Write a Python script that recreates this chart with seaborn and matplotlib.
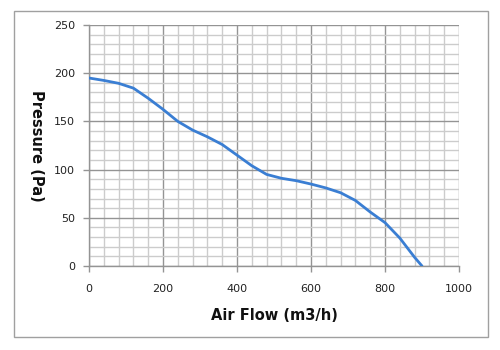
import matplotlib
matplotlib.use("Agg")
import matplotlib.pyplot as plt
from matplotlib.patches import Rectangle
from matplotlib.ticker import MultipleLocator
import seaborn as sns
import pandas as pd

# Fan performance curve: air flow (m3/h) vs static pressure (Pa)
air_flow = [0, 40, 80, 120, 160, 200, 240, 280, 320, 360, 400, 440,
            480, 520, 560, 600, 640, 680, 720, 760, 800, 840, 880, 900]
pressure = [195, 192.5, 189.5, 184.5, 174, 162.5, 150, 141, 134, 126, 115, 104,
            95, 91, 88.5, 85, 81, 76, 68, 56, 45, 29, 9, 0]

x_ticks = [0, 200, 400, 600, 800, 1000]
y_ticks = [0, 50, 100, 150, 200, 250]

df = pd.DataFrame({"Air Flow (m3/h)": air_flow, "Pressure (Pa)": pressure})

sns.set_theme(style="white")
plt.rcParams["font.family"] = ["DejaVu Sans"]

fig = plt.figure(figsize=(5, 3.5), dpi=100)
fig.patch.set_facecolor("white")

# outer chart frame
fig.patches.append(Rectangle((14 / 500, 13 / 350), 474 / 500, 326 / 350,
                             transform=fig.transFigure, fill=False,
                             edgecolor="#a0a0a0", linewidth=1.0))

ax = fig.add_axes([89 / 500, 84 / 350, 370 / 500, 241 / 350])

sns.lineplot(data=df, x="Air Flow (m3/h)", y="Pressure (Pa)", ax=ax,
             color="#3a7ed3", linewidth=2.0, sort=False, zorder=5)

ax.set_xlim(0, 1000)
ax.set_ylim(0, 250)
ax.set_xticks(x_ticks)
ax.set_yticks(y_ticks)
ax.xaxis.set_minor_locator(MultipleLocator(40))
ax.yaxis.set_minor_locator(MultipleLocator(10))

ax.grid(which="minor", color="#cccccc", linewidth=1.0)
ax.grid(which="major", color="#949494", linewidth=1.0)
ax.set_axisbelow(True)

for side in ["top", "right"]:
    ax.spines[side].set_visible(False)
for side in ["left", "bottom"]:
    ax.spines[side].set_color("#949494")
    ax.spines[side].set_linewidth(1.0)

ax.tick_params(which="major", direction="out", length=4, width=1.0,
               color="#949494", labelsize=8, labelcolor="#222222",
               left=True, bottom=True, pad=9)
ax.tick_params(axis="y", pad=6)
ax.tick_params(which="minor", length=0)

ax.set_xlabel("Air Flow (m3/h)", fontsize=10.5, fontweight="bold",
              color="#111111", labelpad=10)
ax.set_ylabel("Pressure (Pa)", fontsize=10.5, fontweight="bold",
              color="#111111", rotation=270, labelpad=14, va="bottom")
ax.yaxis.set_label_coords(-0.163, 0.5)

fig.savefig("out.png", dpi=100)
